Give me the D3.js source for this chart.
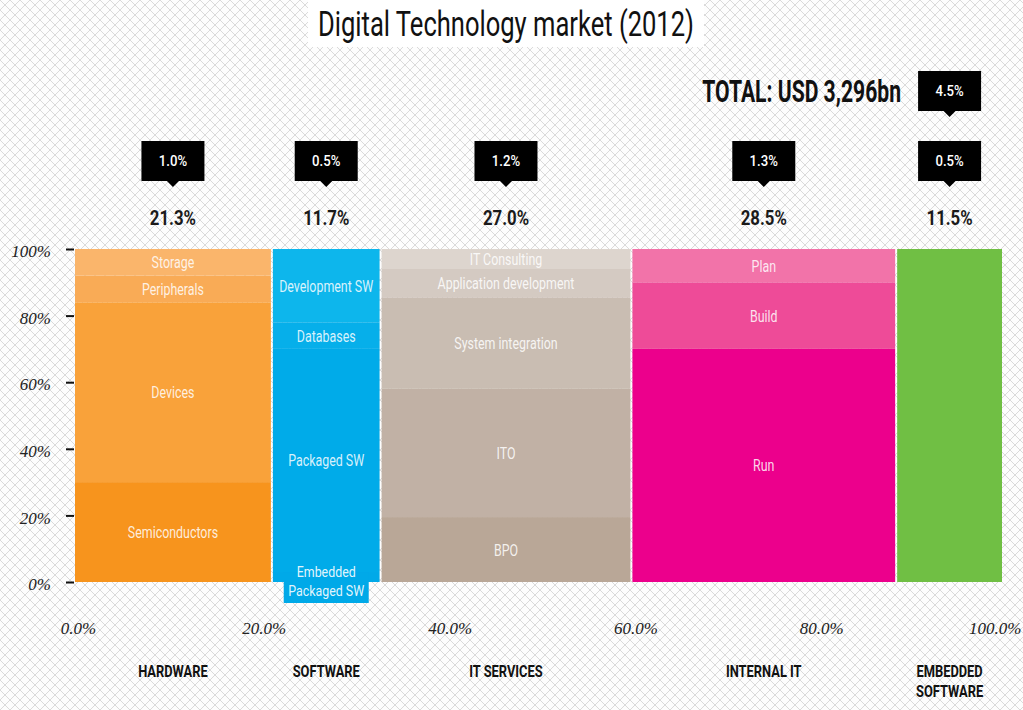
<!DOCTYPE html>
<html><head><meta charset="utf-8">
<script src="https://cdn.jsdelivr.net/npm/d3@7"></script>
<style>
html,body{margin:0;padding:0;background:#fff;}
svg{display:block;}
.din{font-family:Roboto,"Noto Sans",sans-serif;}
.ser{font-family:"Liberation Serif","DejaVu Serif",serif;font-style:italic;}
</style></head>
<body>
<svg id="chart" width="1023" height="710"></svg>
<script>
// ---- data ----
const categories = ["HARDWARE", "SOFTWARE", "IT SERVICES", "INTERNAL IT", "EMBEDDED|SOFTWARE"];
const shares = [21.3, 11.7, 27.0, 28.5, 11.5];
const shareLabels = ["21.3%", "11.7%", "27.0%", "28.5%", "11.5%"];
const growthLabels = ["1.0%", "0.5%", "1.2%", "1.3%", "0.5%"];
const extraGrowthLabels = ["", "", "", "", "4.5%"];

const hardwareNames = ["Semiconductors", "Devices", "Peripherals", "Storage"];
const hardwareValues = [30, 54, 8, 8];
const softwareNames = ["Embedded|Packaged SW", "Packaged SW", "Databases", "Development SW"];
const softwareValues = [3, 67, 8, 22];
const itServicesNames = ["BPO", "ITO", "System integration", "Application development", "IT Consulting"];
const itServicesValues = [19.5, 38.5, 27.5, 8.5, 6];
const internalNames = ["Run", "Build", "Plan"];
const internalValues = [70, 20, 10];
const embeddedNames = [""];
const embeddedValues = [100];

const yTicks = [0, 20, 40, 60, 80, 100];
const xTicks = [0, 20, 40, 60, 80, 100];

const title = "Digital Technology market (2012)";
const totalLabel = "TOTAL: USD 3,296bn";

// ---- styles ----
const palette = [
  ["#f7941d", "#f9a23a", "#f9ab56", "#fab56b"],
  ["#00a9e8", "#00abe9", "#06afea", "#0db6ec"],
  ["#b9a797", "#c1b1a5", "#c9bdb2", "#d4cac2", "#ddd5ce"],
  ["#ec008c", "#ee4b98", "#f273a9"],
  ["#70bf44"]
];

const segNames = [hardwareNames, softwareNames, itServicesNames, internalNames, embeddedNames];
const segValues = [hardwareValues, softwareValues, itServicesValues, internalValues, embeddedValues];

// condensed look: compress each text horizontally about its anchor x
function squeeze(sel, sx) {
  sel.each(function () {
    const x0 = +this.getAttribute("x") || 0;
    d3.select(this).attr("transform", `translate(${x0 * (1 - sx)},0) scale(${sx},1)`);
  });
  return sel;
}

const svg = d3.select("#chart");
const W = 1023, H = 710;

// background lattice pattern
const defs = svg.append("defs");
const pat = defs.append("pattern").attr("id", "lattice").attr("patternUnits", "userSpaceOnUse")
  .attr("width", 10).attr("height", 10);
pat.append("rect").attr("width", 10).attr("height", 10).attr("fill", "#fdfdfd");
pat.append("path").attr("d", "M0,0L10,10M10,0L0,10M-5,5L5,15M5,-5L15,5M5,15L15,5M-5,5L5,-5")
  .attr("stroke", "#d6d6d6").attr("stroke-width", 0.9).attr("fill", "none");
svg.append("rect").attr("width", W).attr("height", H).attr("fill", "url(#lattice)");

// scales
const x = d3.scaleLinear().domain([0, 100]).range([74, 1003]);
const y = d3.scaleLinear().domain([0, 100]).range([582, 249]);

// cumulative category starts
let acc = 0;
const cats = categories.map((c, i) => {
  const o = {name: c, start: acc, end: acc + shares[i], i};
  acc += shares[i];
  return o;
});

// y axis
const yAxis = d3.axisLeft(y).tickValues(yTicks).tickSize(8).tickPadding(15).tickFormat(d => d + "%");
const gy = svg.append("g").attr("transform", "translate(74,0)").call(yAxis);
gy.select(".domain").remove();
gy.selectAll(".tick line").attr("stroke", "#111").attr("stroke-width", 2);
gy.selectAll(".tick text").attr("class", "ser").attr("font-size", 17).attr("fill", "#222").attr("dy", "0.45em");

// x axis labels
const xAxis = d3.axisBottom(x).tickValues(xTicks).tickSize(0).tickPadding(0).tickFormat(d => d3.format(".1f")(d) + "%");
const gx = svg.append("g").attr("transform", "translate(4,634)").call(xAxis);
gx.select(".domain").remove();
gx.selectAll(".tick text").attr("class", "ser").attr("font-size", 17).attr("fill", "#222").attr("dy", 0)
  .filter(d => d === 100).attr("text-anchor", "end").attr("dx", 14);

// bars
cats.forEach(cat => {
  const names = segNames[cat.i], vals = segValues[cat.i];
  let b = 0;
  const x0 = x(cat.start) + 1, x1 = x(cat.end) - 1;
  const cx = (x0 + x1) / 2;
  const g = svg.append("g");
  const segs = vals.map((v, k) => { const s = {name: names[k], lo: b, hi: b + v, k}; b += v; return s; });
  g.selectAll("rect").data(segs).join("rect")
    .attr("x", x0).attr("width", x1 - x0)
    .attr("y", d => y(d.hi)).attr("height", d => y(d.lo) - y(d.hi))
    .attr("fill", d => palette[cat.i][d.k]);
  segs.forEach(s => {
    if (!s.name) return;
    const lines = s.name.split("|");
    if (lines.length > 1) {
      const bw = 85;
      g.append("rect").attr("x", cx - bw / 2).attr("y", y(s.hi)).attr("width", bw)
        .attr("height", 603 - y(s.hi)).attr("fill", palette[cat.i][s.k]);
      lines.forEach((ln, j) => {
        squeeze(g.append("text").attr("class", "din").attr("x", cx).attr("y", y(s.hi) + 5 + j * 18.5)
          .attr("text-anchor", "middle").attr("font-size", 15.5).attr("fill", "#fff").attr("fill-opacity", 0.9)
          .text(ln), 0.8);
      });
    } else {
      squeeze(g.append("text").attr("class", "din").attr("x", cx).attr("y", (y(s.lo) + y(s.hi)) / 2 + 6)
        .attr("text-anchor", "middle").attr("font-size", 17).attr("fill", "#fff").attr("fill-opacity", 0.85)
        .text(s.name), 0.73);
    }
  });

  // share label
  squeeze(svg.append("text").attr("class", "din").attr("x", cx).attr("y", 225).attr("text-anchor", "middle")
    .attr("font-size", 21).attr("font-weight", "bold").attr("fill", "#1a1a1a").text(shareLabels[cat.i]), 0.8);

  // callouts
  const callout = (label, top) => {
    const bw = 63, bh = 40;
    svg.append("path")
      .attr("d", `M${cx - bw / 2},${top}h${bw}v${bh}h${-(bw / 2 - 6)}l-6,6l-6,-6h${-(bw / 2 - 6)}z`)
      .attr("fill", "#000");
    squeeze(svg.append("text").attr("class", "din").attr("x", cx).attr("y", top + bh / 2 + 5.5).attr("text-anchor", "middle")
      .attr("font-size", 15.5).attr("font-weight", 500).attr("fill", "#fff").text(label), 0.85);
  };
  callout(growthLabels[cat.i], 141);
  if (extraGrowthLabels[cat.i]) callout(extraGrowthLabels[cat.i], 71);

  // category label
  cat.name.split("|").forEach((ln, j) => {
    squeeze(svg.append("text").attr("class", "din").attr("x", cx).attr("y", 677 + j * 20).attr("text-anchor", "middle")
      .attr("font-size", 16.5).attr("font-weight", "bold").attr("fill", "#111").text(ln), 0.78);
  });
});

// title
svg.append("rect").attr("x", 308).attr("y", 0).attr("width", 396).attr("height", 47).attr("fill", "#fff");
squeeze(svg.append("text").attr("class", "din").attr("x", 506).attr("y", 36).attr("text-anchor", "middle")
  .attr("font-size", 35).attr("fill", "#111").text(title), 0.73);

// total
squeeze(svg.append("text").attr("class", "din").attr("x", 901).attr("y", 102).attr("text-anchor", "end")
  .attr("font-size", 32).attr("font-weight", "bold").attr("fill", "#111").text(totalLabel), 0.66);
</script>
</body></html>
